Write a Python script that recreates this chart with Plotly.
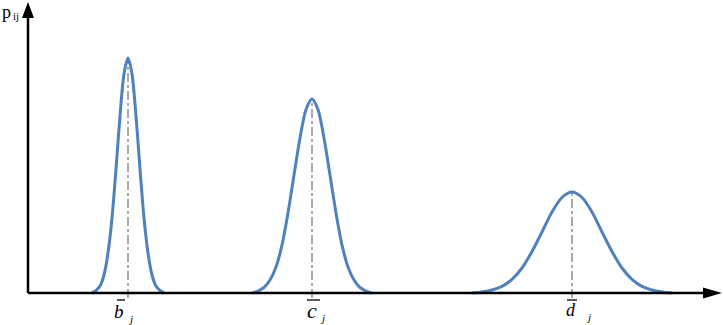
import plotly.graph_objects as go

# Curve samples (x: distance from the vertical axis, y: height above the horizontal axis)
b_x = [64, 68, 72, 76, 80, 84, 88, 92, 96, 100, 104, 108, 112, 116, 120, 124, 128, 132, 136]
b_y = [0, 2.5, 7, 18, 40, 75, 124, 177, 219, 235, 219, 177, 124, 75, 40, 18, 7, 2.5, 0]

c_x = [224, 230, 236, 242, 248, 254, 260, 266, 272, 278, 284, 290, 296, 302, 308, 314, 320, 326, 332, 338, 344]
c_y = [0, 2, 5.5, 13, 26, 48, 80, 118, 155, 183.5, 194, 183.5, 155, 118, 80, 48, 26, 13, 5.5, 2, 0]

d_x = [444, 454, 464, 474, 484, 494, 504, 514, 524, 534, 544, 554, 564, 574, 584, 594, 604, 614, 624, 634, 644]
d_y = [0, 1, 3, 6.6, 13.7, 25, 41.5, 61, 81, 95.5, 101, 95.5, 81, 61, 41.5, 25, 13.7, 6.6, 3, 1, 0]

series = [("b", b_x, b_y), ("c", c_x, c_y), ("d", d_x, d_y)]
label_sizes = {"b": 19, "c": 22, "d": 18}

curve_color = "#4f81bd"

fig = go.Figure()

for name, xs, ys in series:
    peak = max(ys)
    xc = xs[ys.index(peak)]
    fig.add_trace(go.Scatter(
        x=[xc, xc], y=[-5, peak], mode="lines",
        line=dict(color="#555555", width=1, dash="dashdot"),
        hoverinfo="skip", showlegend=False))
    fig.add_trace(go.Scatter(
        x=xs, y=ys, mode="lines",
        line=dict(color=curve_color, width=3, shape="spline", smoothing=0.8),
        showlegend=False))

shapes = []
# axes
shapes.append(dict(type="line", x0=0, y0=0, x1=0, y1=278, line=dict(color="black", width=2.5), layer="above"))
shapes.append(dict(type="line", x0=0, y0=0, x1=678, y1=0, line=dict(color="black", width=2.5), layer="above"))
shapes.append(dict(type="path", path="M -6,275 L 6,275 L 0,291 Z", fillcolor="black", line=dict(width=0), layer="above"))
shapes.append(dict(type="path", path="M 675,-5.5 L 675,5.5 L 694,0 Z", fillcolor="black", line=dict(width=0), layer="above"))

annotations = []
# (letter x, letter y, overline x0, overline x1, overline y, subscript x, subscript y)
label_pos = {"b": (91, -18, 89, 97, -7, 102, -26),
             "c": (284, -17, 279, 292, -7, 294, -25),
             "d": (543, -17, 539, 549, -7, 560, -24)}
for name, xs, ys in series:
    lx, ly, ox0, ox1, oy, jx, jy = label_pos[name]
    annotations.append(dict(x=lx, y=ly, text="<i>%s</i>" % name, showarrow=False,
                            font=dict(family="Liberation Serif", size=label_sizes[name], color="black"),
                            xref="x", yref="y"))
    annotations.append(dict(x=jx, y=jy, text="<i>j</i>", showarrow=False,
                            font=dict(family="Liberation Serif", size=11, color="black"),
                            xref="x", yref="y"))
    shapes.append(dict(type="line", x0=ox0, x1=ox1, y0=oy, y1=oy, line=dict(color="black", width=1.3)))

annotations.append(dict(x=-22, y=281, text="p", showarrow=False, xanchor="center", yanchor="middle",
                        font=dict(family="Liberation Serif", size=18, color="black")))
annotations.append(dict(x=-17, y=277, text="ij", showarrow=False, xanchor="left", yanchor="middle",
                        font=dict(family="Liberation Serif", size=11, color="black")))

fig.update_layout(
    width=723, height=325,
    margin=dict(l=0, r=0, t=0, b=0),
    paper_bgcolor="white", plot_bgcolor="white",
    xaxis=dict(range=[-28, 695], visible=False, fixedrange=True),
    yaxis=dict(range=[-32, 293], visible=False, fixedrange=True),
    shapes=shapes, annotations=annotations,
    showlegend=False,
)

fig.write_html("out.html", config={"displayModeBar": False},
               post_script="document.body.style.margin='0';document.body.style.overflow='hidden';")
